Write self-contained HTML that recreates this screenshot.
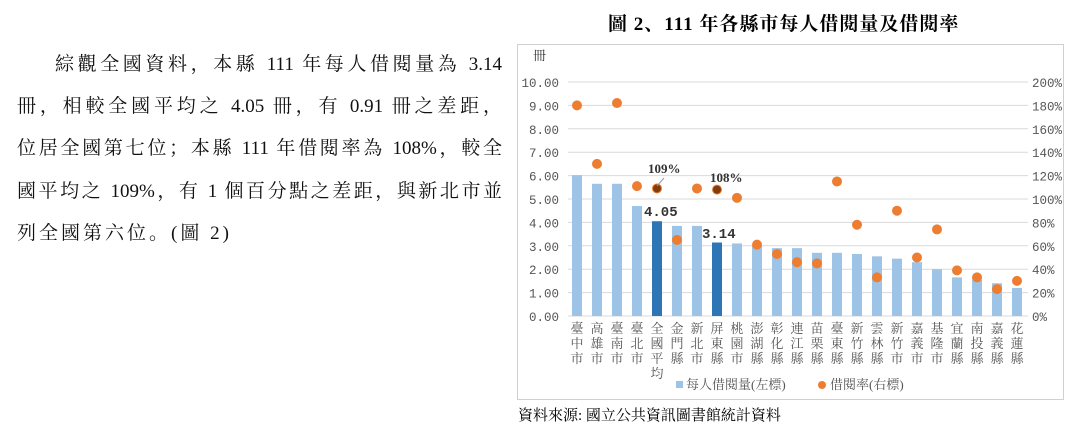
<!DOCTYPE html>
<html><head><meta charset="utf-8"><style>
body{margin:0;width:1092px;height:431px;background:#fff;position:relative;overflow:hidden;font-family:"Liberation Serif","Noto Serif CJK SC",serif;}
.l{position:absolute;left:17px;width:485px;font-size:19px;line-height:22px;color:#111;text-align:justify;text-align-last:justify;white-space:nowrap;}
</style></head><body>
<div class="l" style="left:55px;width:447px;top:54px">綜觀全國資料，本縣 111 年每人借閱量為 3.14</div>
<div class="l" style="top:96px">冊，相較全國平均之 4.05 冊，有 0.91 冊之差距，</div>
<div class="l" style="top:138px">位居全國第七位；本縣 111 年借閱率為 108%，較全</div>
<div class="l" style="top:181px">國平均之 109%，有 1 個百分點之差距，與新北市並</div>
<div class="l" style="top:223px;width:auto;text-align-last:auto;letter-spacing:3px">列全國第六位。(圖 2)</div>
<div style="position:absolute;left:608px;top:9px;font-size:19px;font-weight:bold;letter-spacing:1px">圖 2、111 年各縣市每人借閱量及借閱率</div>
<svg id="s" width="1092" height="431" style="position:absolute;left:0;top:0" font-family="Liberation Serif, Noto Serif CJK SC, serif"></svg>
<div style="position:absolute;left:518px;top:404px;font-size:15px">資料來源: 國立公共資訊圖書館統計資料</div>
<script>
var s=document.getElementById('s'),h='';
h+='<rect x="517.5" y="44.5" width="546" height="355" fill="none" stroke="#d0d0d0"/>';
h+='<text x="533" y="60" font-size="13" fill="#333">冊</text>';
for(var i=0;i<=10;i++){var y=316-i*23.4;
h+='<line x1="568" x2="1028" y1="'+y+'" y2="'+y+'" stroke="#d9d9d9"/>';
h+='<text x="559" y="'+(y+5)+'" font-size="12.5" font-family="Liberation Mono, monospace" fill="#555" text-anchor="end">'+i+'.00</text>';
h+='<text x="1032" y="'+(y+5)+'" font-size="12.5" font-family="Liberation Mono, monospace" fill="#555">'+(i*20)+'%</text>';}
var b=[6.02,5.65,5.65,4.70,4.05,3.85,3.85,3.14,3.1,3.0,2.9,2.9,2.7,2.7,2.65,2.55,2.45,2.3,2.0,1.65,1.55,1.4,1.2];
var r=[180,130,182,111,109,65,109,108,101,61,53,46,45,115,78,33,90,50,74,39,33,23,30];
var n=['臺中市','高雄市','臺南市','臺北市','全國平均','金門縣','新北市','屏東縣','桃園市','澎湖縣','彰化縣','連江縣','苗栗縣','臺東縣','新竹縣','雲林縣','新竹市','嘉義市','基隆市','宜蘭縣','南投縣','嘉義縣','花蓮縣'];
for(var i=0;i<23;i++){var x=577+i*20,bh=b[i]*23.4,c=(i==4||i==7)?'#2e75b6':'#9dc3e6';
h+='<rect x="'+(x-5)+'" y="'+(316-bh)+'" width="10" height="'+bh+'" fill="'+c+'"/>';
for(var k=0;k<n[i].length;k++)h+='<text x="'+x+'" y="'+(333+k*15)+'" font-size="13" fill="#555" text-anchor="middle">'+n[i][k]+'</text>';}
for(var i=0;i<23;i++){var x=577+i*20,y=316-r[i]*1.17,c=(i==4||i==7)?'#843c0c':'#ed7d31';
h+='<circle cx="'+x+'" cy="'+y+'" r="4.5" fill="'+c+'" stroke="#ed7d31"/>';}
h+='<line x1="657" y1="186" x2="664" y2="178" stroke="#999"/>';
h+='<text x="648" y="173" font-size="13" font-weight="bold" fill="#333">109%</text>';
h+='<text x="710" y="182" font-size="13" font-weight="bold" fill="#333">108%</text>';
h+='<text x="644" y="216" font-size="14" font-weight="bold" font-family="Liberation Mono, monospace" fill="#333">4.05</text>';
h+='<text x="702" y="238" font-size="14" font-weight="bold" font-family="Liberation Mono, monospace" fill="#333">3.14</text>';
h+='<rect x="676" y="381" width="7" height="7" fill="#9dc3e6"/><text x="686" y="389" font-size="13" fill="#555">每人借閱量(左標)</text>';
h+='<circle cx="822" cy="385" r="4" fill="#ed7d31"/><text x="830" y="389" font-size="13" fill="#555">借閱率(右標)</text>';
s.innerHTML=h;
</script>
</body></html>
